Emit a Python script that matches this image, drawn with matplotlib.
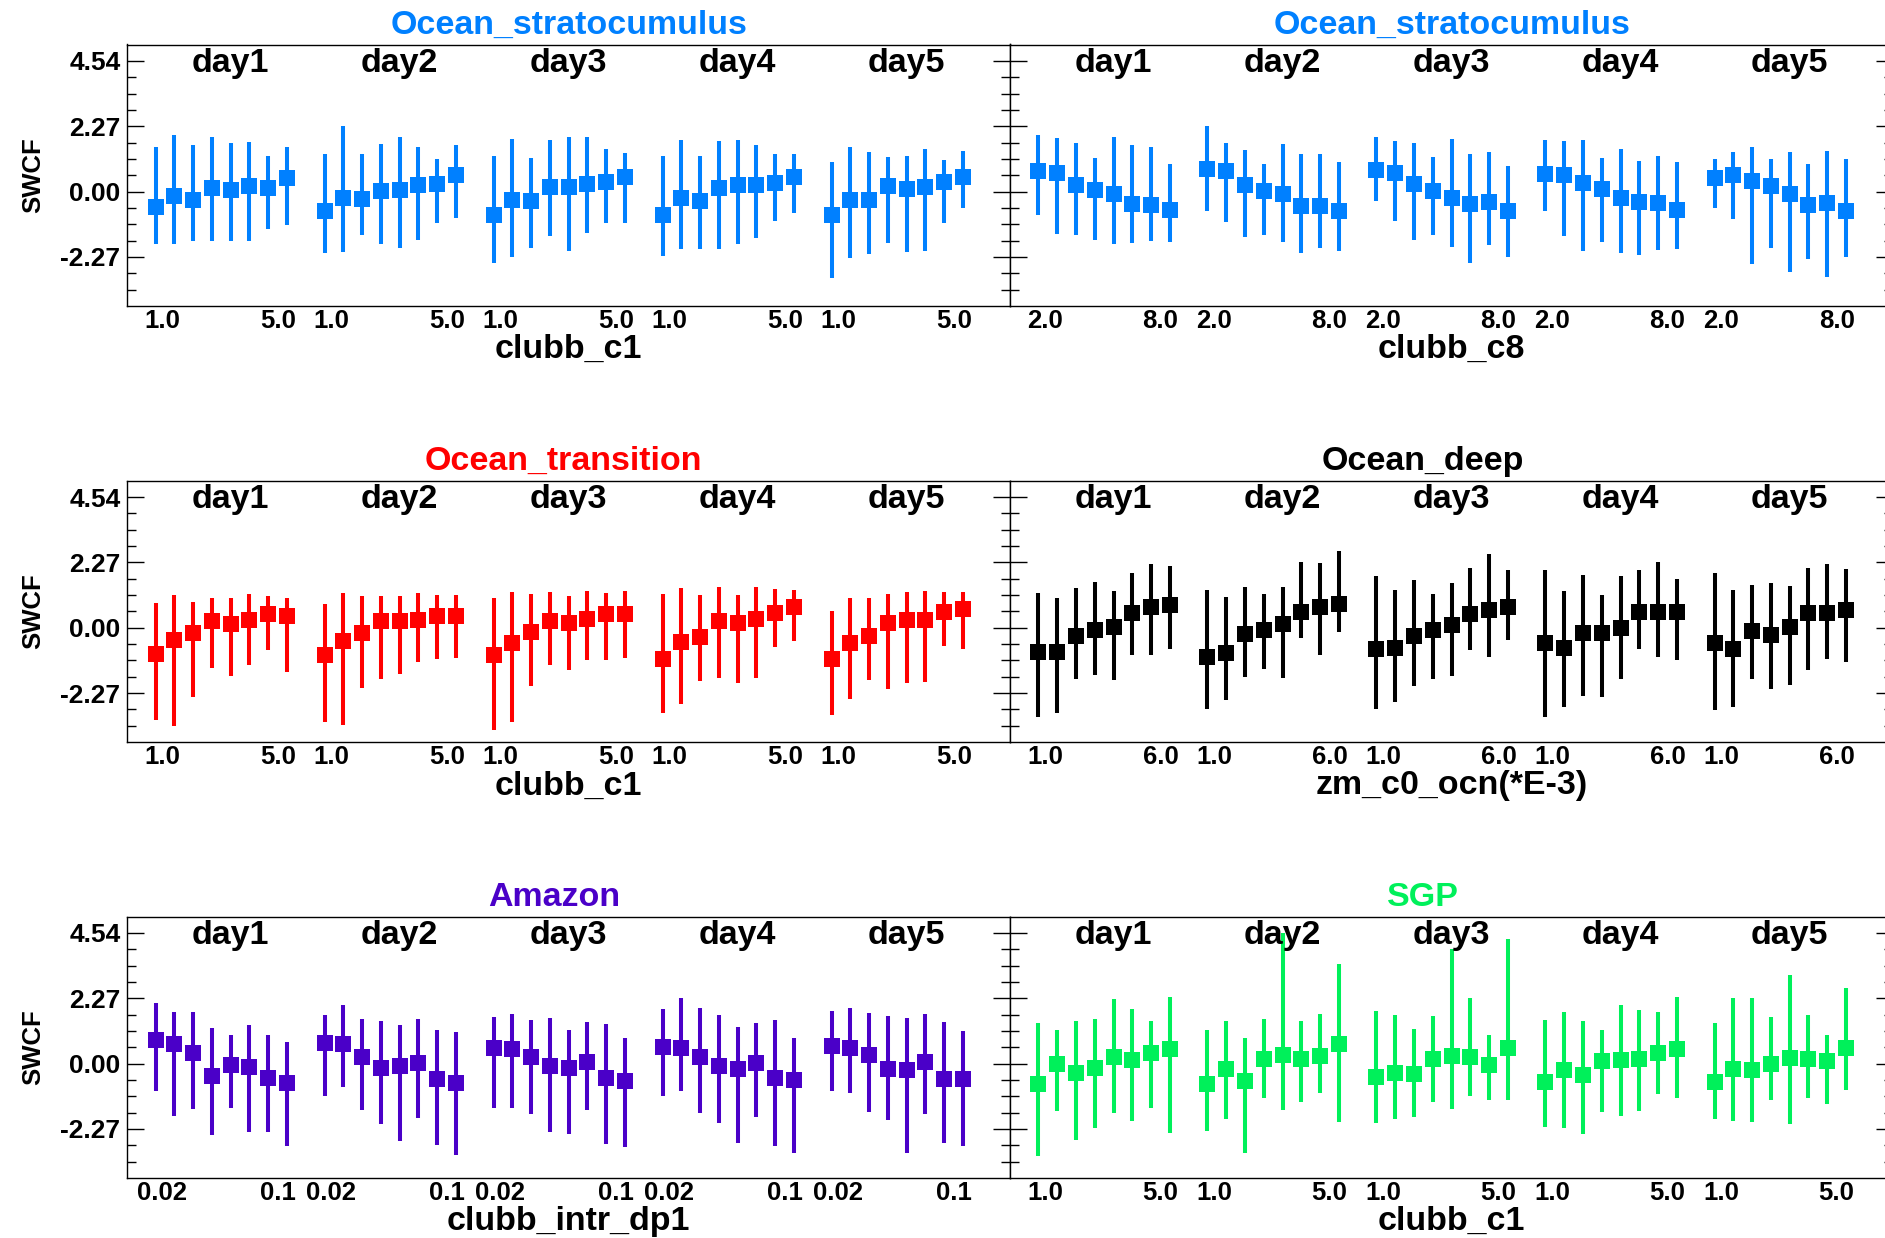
import matplotlib.pyplot as plt
from matplotlib.ticker import FixedLocator
from matplotlib.transforms import blended_transform_factory

plt.rcParams["font.family"] = ["Liberation Sans", "DejaVu Sans"]
plt.rcParams["font.weight"] = "bold"

days = ["day1", "day2", "day3", "day4", "day5"]
n_runs = 8

# Ocean_stratocumulus, clubb_c1
sc_c1_mean = [-0.54, -0.15, -0.28, 0.12, 0.05, 0.20, 0.12, 0.46,
              -0.68, -0.24, -0.27, 0.01, 0.06, 0.21, 0.25, 0.56,
              -0.82, -0.30, -0.34, 0.16, 0.15, 0.25, 0.34, 0.49,
              -0.82, -0.22, -0.34, 0.12, 0.21, 0.22, 0.29, 0.49,
              -0.82, -0.28, -0.29, 0.20, 0.10, 0.16, 0.32, 0.52]
sc_c1_hi = [1.53, 1.95, 1.60, 1.88, 1.68, 1.71, 1.23, 1.53,
            1.31, 2.27, 1.30, 1.64, 1.90, 1.54, 1.13, 1.61,
            1.25, 1.84, 1.17, 1.80, 1.88, 1.88, 1.47, 1.34,
            1.25, 1.78, 1.24, 1.76, 1.78, 1.63, 1.29, 1.31,
            1.03, 1.53, 1.36, 1.20, 1.24, 1.47, 1.08, 1.40]
sc_c1_lo = [-1.83, -1.83, -1.73, -1.71, -1.71, -1.71, -1.31, -1.15,
            -2.14, -2.10, -1.52, -1.82, -1.96, -1.68, -1.10, -0.93,
            -2.48, -2.29, -1.95, -1.53, -2.05, -1.44, -1.08, -1.10,
            -2.24, -1.99, -1.99, -1.99, -1.81, -1.62, -1.03, -0.73,
            -2.99, -2.32, -2.18, -1.80, -2.10, -2.07, -1.08, -0.58]

# Ocean_stratocumulus, clubb_c8
sc_c8_mean = [0.73, 0.65, 0.21, 0.05, -0.09, -0.45, -0.47, -0.64,
              0.78, 0.72, 0.22, 0.01, -0.09, -0.51, -0.51, -0.68,
              0.74, 0.66, 0.27, 0.01, -0.22, -0.43, -0.38, -0.67,
              0.61, 0.59, 0.31, 0.08, -0.21, -0.37, -0.39, -0.64,
              0.47, 0.59, 0.36, 0.19, -0.09, -0.46, -0.39, -0.66]
sc_c8_hi = [1.95, 1.86, 1.70, 1.18, 1.88, 1.61, 1.54, 0.97,
            2.28, 1.67, 1.45, 0.97, 1.64, 1.31, 1.32, 1.02,
            1.90, 1.74, 1.67, 1.19, 1.81, 1.29, 1.37, 0.87,
            1.78, 1.76, 1.78, 1.16, 1.49, 1.07, 1.23, 1.04,
            1.13, 1.39, 1.54, 1.12, 1.37, 0.97, 1.42, 1.13]
sc_c8_lo = [-0.82, -1.48, -1.52, -1.68, -1.82, -1.80, -1.73, -1.75,
            -0.66, -1.05, -1.59, -1.52, -1.76, -2.14, -1.95, -2.07,
            -0.32, -1.01, -1.67, -1.52, -1.93, -2.48, -1.85, -2.27,
            -0.69, -1.55, -2.07, -1.77, -2.14, -2.21, -2.03, -1.98,
            -0.57, -0.95, -2.51, -1.95, -2.79, -2.35, -2.96, -2.26]

# Ocean_transition, clubb_c1
tr_c1_mean = [-0.90, -0.44, -0.20, 0.24, 0.12, 0.27, 0.47, 0.42,
              -0.96, -0.47, -0.19, 0.24, 0.23, 0.27, 0.41, 0.41,
              -0.93, -0.53, -0.16, 0.25, 0.17, 0.30, 0.46, 0.47,
              -1.09, -0.50, -0.32, 0.24, 0.17, 0.32, 0.51, 0.71,
              -1.10, -0.53, -0.27, 0.16, 0.27, 0.27, 0.56, 0.65]
tr_c1_hi = [0.87, 1.12, 0.88, 1.04, 1.02, 1.18, 1.11, 1.02,
            0.83, 1.20, 1.09, 1.11, 1.09, 1.22, 1.12, 1.13,
            1.02, 1.24, 1.16, 1.25, 1.09, 1.29, 1.19, 1.27,
            1.18, 1.39, 1.13, 1.41, 1.12, 1.40, 1.34, 1.32,
            0.59, 1.05, 1.03, 1.18, 1.24, 1.26, 1.23, 1.23]
tr_c1_lo = [-3.20, -3.42, -2.39, -1.40, -1.66, -1.31, -0.78, -1.55,
            -3.27, -3.38, -2.11, -1.78, -1.62, -1.19, -1.07, -1.04,
            -3.56, -3.28, -2.03, -1.29, -1.46, -1.13, -1.13, -1.05,
            -2.96, -2.64, -1.84, -1.74, -1.93, -1.74, -0.68, -0.46,
            -3.02, -2.47, -1.82, -2.12, -1.92, -1.88, -0.65, -0.74]

# Ocean_deep, zm_c0_ocn
dp_c0_mean = [-0.83, -0.83, -0.29, -0.07, 0.02, 0.52, 0.73, 0.78,
              -1.01, -0.89, -0.23, -0.08, 0.12, 0.54, 0.73, 0.82,
              -0.75, -0.71, -0.28, -0.08, 0.08, 0.46, 0.61, 0.71,
              -0.53, -0.72, -0.17, -0.17, 0.00, 0.54, 0.54, 0.54,
              -0.54, -0.73, -0.13, -0.25, 0.01, 0.52, 0.52, 0.60]
dp_c0_hi = [1.22, 1.02, 1.37, 1.58, 1.29, 1.89, 2.20, 2.15,
            1.30, 1.07, 1.41, 1.17, 1.42, 2.29, 2.26, 2.65,
            1.78, 1.30, 1.67, 1.16, 1.54, 2.08, 2.55, 2.00,
            2.02, 1.26, 1.83, 1.12, 1.81, 1.99, 2.28, 1.70,
            1.91, 1.32, 1.49, 1.56, 1.46, 2.07, 2.22, 2.04]
dp_c0_lo = [-3.09, -2.95, -1.77, -1.63, -1.83, -0.95, -0.94, -0.73,
            -2.81, -2.51, -1.70, -1.44, -1.73, -0.34, -0.93, -0.14,
            -2.81, -2.58, -2.04, -1.77, -1.67, -0.78, -1.03, -0.42,
            -3.09, -2.76, -2.37, -2.41, -1.78, -0.74, -1.02, -1.12,
            -2.87, -2.74, -1.78, -2.12, -1.98, -1.48, -1.08, -1.20]

# Amazon, clubb_intr_dp1
am_dp1_mean = [0.82, 0.69, 0.35, -0.44, -0.05, -0.12, -0.50, -0.69,
               0.70, 0.67, 0.24, -0.14, -0.08, 0.01, -0.54, -0.67,
               0.54, 0.52, 0.23, -0.10, -0.16, 0.07, -0.50, -0.60,
               0.58, 0.55, 0.23, -0.10, -0.18, 0.02, -0.51, -0.57,
               0.60, 0.54, 0.29, -0.20, -0.24, 0.06, -0.52, -0.54]
am_dp1_hi = [2.09, 1.79, 1.80, 1.24, 0.99, 1.34, 0.99, 0.74,
             1.68, 2.02, 1.55, 1.49, 1.33, 1.54, 1.17, 1.09,
             1.63, 1.71, 1.50, 1.57, 1.16, 1.44, 1.39, 0.88,
             1.89, 2.26, 1.94, 1.69, 1.27, 1.41, 1.50, 0.90,
             1.81, 1.94, 1.74, 1.64, 1.59, 1.72, 1.43, 1.14]
am_dp1_lo = [-0.94, -1.81, -1.59, -2.47, -1.56, -2.39, -2.37, -2.87,
             -1.13, -0.82, -1.61, -2.10, -2.68, -1.88, -2.83, -3.17,
             -1.55, -1.54, -1.74, -2.37, -2.46, -1.62, -2.78, -2.91,
             -1.13, -0.97, -1.71, -2.06, -2.77, -1.84, -2.87, -3.10,
             -0.95, -1.03, -1.70, -1.95, -3.11, -1.74, -2.76, -2.87]

# SGP, clubb_c1
sgp_c1_mean = [-0.70, -0.01, -0.32, -0.15, 0.23, 0.13, 0.38, 0.49,
               -0.70, -0.18, -0.62, 0.16, 0.28, 0.17, 0.27, 0.68,
               -0.47, -0.32, -0.35, 0.17, 0.25, 0.22, -0.05, 0.53,
               -0.65, -0.22, -0.39, 0.08, 0.13, 0.16, 0.37, 0.52,
               -0.64, -0.18, -0.21, 0.00, 0.20, 0.16, 0.08, 0.54]
sgp_c1_hi = [1.40, 1.16, 1.48, 1.54, 2.24, 1.89, 1.48, 2.31,
             1.16, 1.47, 0.87, 1.54, 4.55, 1.47, 1.71, 3.47,
             1.81, 1.68, 1.21, 1.65, 3.99, 2.28, 0.99, 4.32,
             1.51, 1.80, 1.47, 1.16, 2.02, 1.86, 1.79, 2.32,
             1.41, 2.29, 2.28, 1.62, 3.06, 1.68, 0.99, 2.61]
sgp_c1_lo = [-3.21, -1.66, -2.67, -2.25, -1.73, -2.01, -1.54, -2.41,
             -2.36, -1.93, -3.11, -1.20, -1.61, -1.34, -1.03, -2.02,
             -2.08, -1.92, -1.87, -1.34, -1.59, -1.13, -1.26, -1.28,
             -2.19, -2.24, -2.46, -1.68, -1.81, -1.65, -1.07, -1.20,
             -1.94, -1.98, -2.04, -1.25, -2.09, -1.19, -1.40, -0.92]

yticks = [-2.27, 0.00, 2.27, 4.54]

panels = [
    # row, col, title, title colour, title x, xlabel, tick labels, data, colour
    (0, 0, "Ocean_stratocumulus", "#0080FF", 0.500, "clubb_c1", ("1.0", "5.0"),
     sc_c1_mean, sc_c1_lo, sc_c1_hi, "#0080FF"),
    (0, 1, "Ocean_stratocumulus", "#0080FF", 0.500, "clubb_c8", ("2.0", "8.0"),
     sc_c8_mean, sc_c8_lo, sc_c8_hi, "#0080FF"),
    (1, 0, "Ocean_transition", "#FF0000", 0.494, "clubb_c1", ("1.0", "5.0"),
     tr_c1_mean, tr_c1_lo, tr_c1_hi, "#FF0000"),
    (1, 1, "Ocean_deep", "black", 0.467, "zm_c0_ocn(*E-3)", ("1.0", "6.0"),
     dp_c0_mean, dp_c0_lo, dp_c0_hi, "black"),
    (2, 0, "Amazon", "#4A00C8", 0.484, "clubb_intr_dp1", ("0.02", "0.1"),
     am_dp1_mean, am_dp1_lo, am_dp1_hi, "#4A00C8"),
    (2, 1, "SGP", "#00F05A", 0.467, "clubb_c1", ("1.0", "5.0"),
     sgp_c1_mean, sgp_c1_lo, sgp_c1_hi, "#00F05A"),
]

W, H = 1885, 1238
fig = plt.figure(figsize=(W / 100, H / 100), dpi=100)

ax_w, ax_h = 882.6, 261.4           # panel size in pixels
col_left = [127.4, 1010.3]
row_top = [44.5, 480.7, 916.5]

# one slot per run, one empty slot between days
xs = [d * (n_runs + 1) + i + 1 for d in range(len(days)) for i in range(n_runs)]

for row, col, title, tcol, tx, xlabel, ticklabs, mean, lo, hi, color in panels:
    ax = fig.add_axes([col_left[col] / W, 1 - (row_top[row] + ax_h) / H,
                       ax_w / W, ax_h / H])
    err = [[m - l for m, l in zip(mean, lo)], [h - m for m, h in zip(mean, hi)]]
    ax.errorbar(xs, mean, yerr=err, fmt="s", color=color, ecolor=color,
                ms=12, mew=0, elinewidth=2.9, capsize=4.9, capthick=2.0)

    ax.set_xlim(-0.5, 46.5)
    ax.set_ylim(-3.9725, 5.1075)

    ax.yaxis.set_major_locator(FixedLocator(yticks))
    ax.yaxis.set_minor_locator(FixedLocator([k * 0.5675 for k in range(-6, 9) if k % 4]))
    ax.set_yticklabels(["%.2f" % v for v in yticks])
    ax.tick_params(axis="y", which="both", direction="in", left=True, right=True,
                   labelsize=19, pad=5, width=1.0)
    ax.tick_params(axis="y", which="major", length=12.2)
    ax.tick_params(axis="y", which="minor", length=6.5)
    if col == 1:
        ax.tick_params(axis="y", labelleft=False)

    tpos, tlab = [], []
    for d in range(len(days)):
        first = xs[d * n_runs]
        last = xs[d * n_runs + n_runs - 1]
        tpos += [first + 0.35, last - 0.5]
        tlab += list(ticklabs)
    ax.set_xticks(tpos)
    ax.set_xticklabels(tlab)
    ax.tick_params(axis="x", length=0, labelsize=18.5, pad=2)

    for s in ax.spines.values():
        s.set_linewidth(1.0)

    trans = blended_transform_factory(ax.transData, ax.transAxes)
    for d, name in enumerate(days):
        mid = (xs[d * n_runs] + xs[d * n_runs + n_runs - 1]) / 2
        ax.text(mid + 0.5, 0.896, name, transform=trans, ha="center",
                va="baseline", fontsize=24.5, zorder=5)

    ax.text(tx, 1 + 10.5 / ax_h, title, transform=ax.transAxes, ha="center",
            va="baseline", fontsize=24.5, color=tcol)
    ax.text(0.5, -0.2, xlabel, transform=ax.transAxes, ha="center",
            va="baseline", fontsize=24.5)
    if col == 0:
        ax.text(-0.107, 0.5, "SWCF", transform=ax.transAxes, rotation=90,
                ha="center", va="center", fontsize=18.5)

fig.savefig("out.png", dpi=100)
